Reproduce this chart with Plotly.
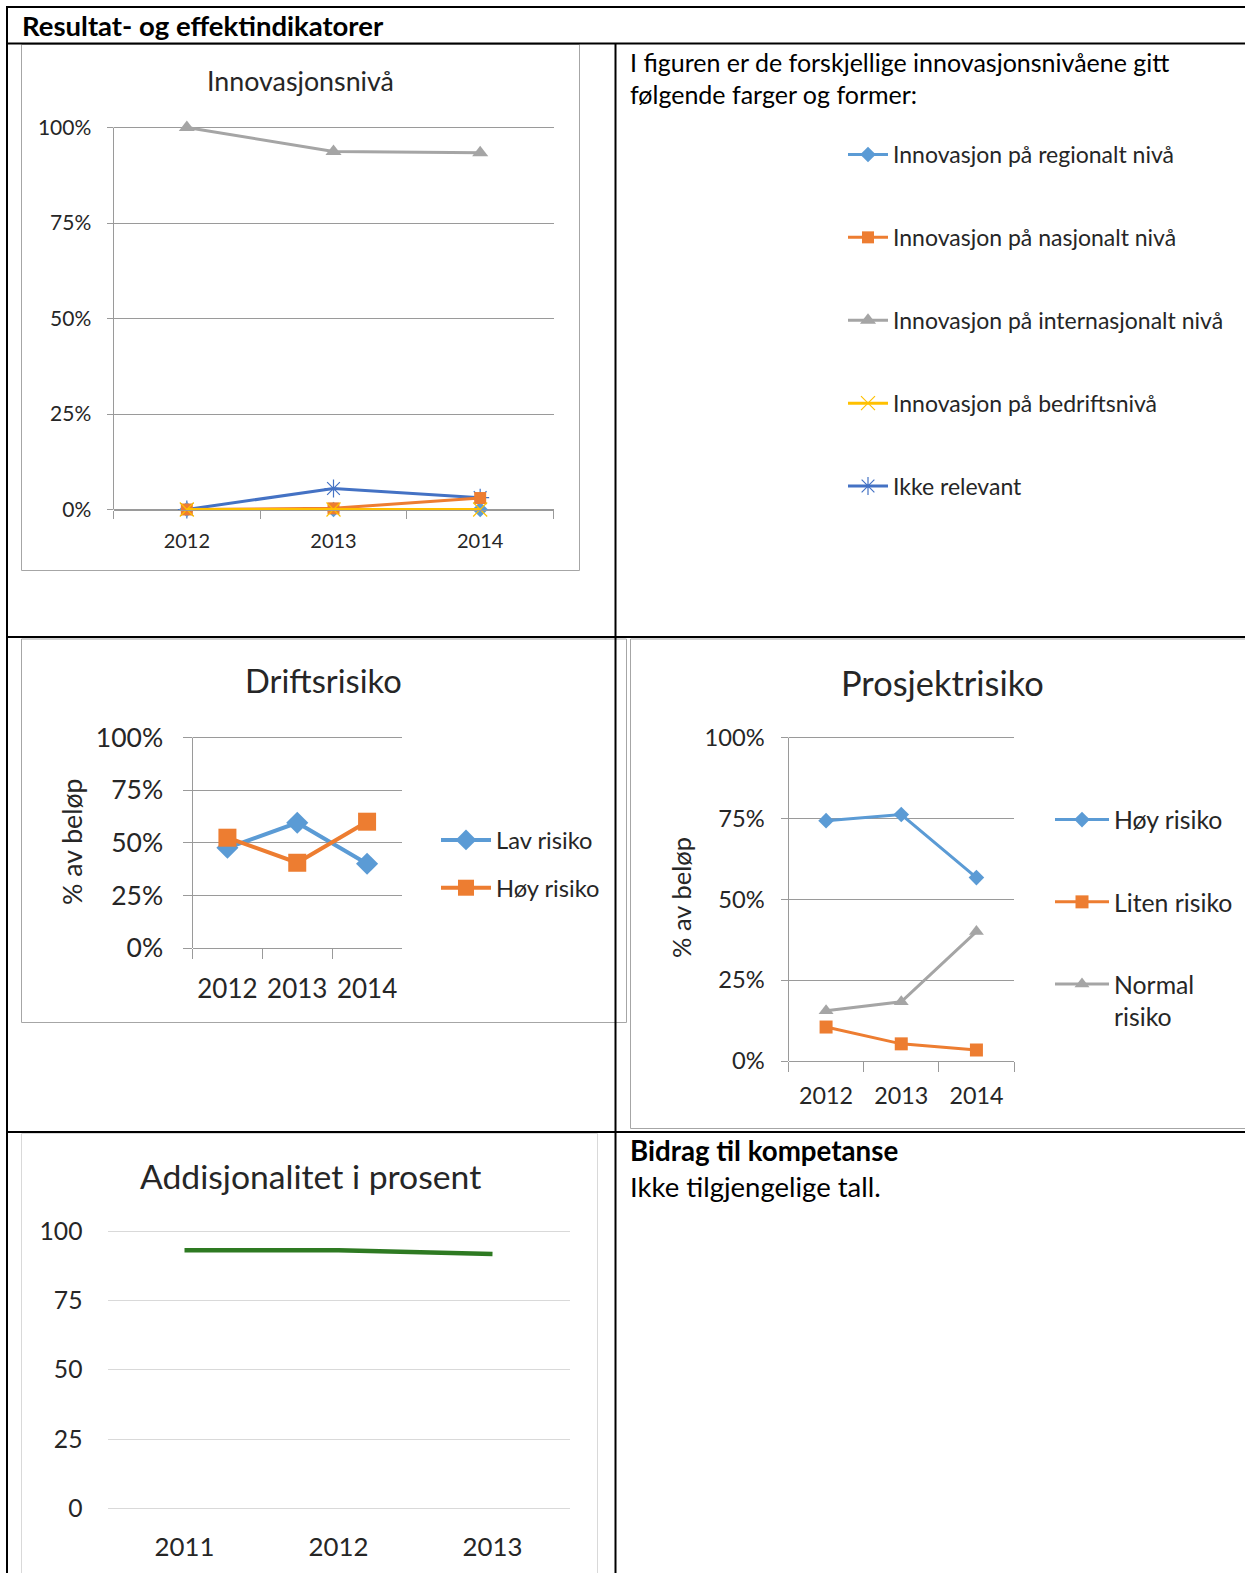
import plotly.graph_objects as go

W, H = 1245, 1573
FONT = "Lato"
TXT = "#262626"
AXC = "#9A9A9A"
BOXC = "#A6A6A6"

# ---------------- data ----------------
years_innov = ["2012", "2013", "2014"]
innov_regional = [0.0, 0.0, 0.0]
innov_nasjonal = [0.0, 0.003, 0.030]
innov_internasjonal = [1.0, 0.937, 0.934]
innov_bedrift = [0.0, 0.0, 0.0]
innov_ikke_relevant = [0.0, 0.055, 0.031]

years_drift = ["2012", "2013", "2014"]
drift_lav = [0.476, 0.595, 0.400]
drift_hoy = [0.524, 0.405, 0.600]

years_prosjekt = ["2012", "2013", "2014"]
prosjekt_hoy = [0.743, 0.762, 0.567]
prosjekt_liten = [0.105, 0.053, 0.034]
prosjekt_normal = [0.155, 0.183, 0.400]

years_add = ["2011", "2012", "2013"]
addisjonalitet = [93.1, 93.1, 91.7]

pct_ticks = [0, 0.25, 0.5, 0.75, 1.0]
pct_labels = ["0%", "25%", "50%", "75%", "100%"]
add_ticks = [0, 25, 50, 75, 100]
add_labels = ["0", "25", "50", "75", "100"]

BLUE, ORANGE, GRAY, YELLOW, DBLUE, GREEN = "#5B9BD5", "#ED7D31", "#A5A5A5", "#FFC000", "#4472C4", "#2E7A22"


def fx(px):
    return px / W


def fy(py):
    return 1 - py / H


def ydom(p_top, p_bot, v_top, v_bot, pad_px=4):
    s = (p_bot - p_top) / (v_top - v_bot)
    pad = pad_px / s
    return [v_bot - pad, v_top + pad], [fy(p_bot + pad_px), fy(p_top - pad_px)]


fig = go.Figure()

# ---------------- chart 1: Innovasjonsnivå ----------------
# (name, values, colour, symbol, size, legend rank) in drawing order
c1 = [
    ("Ikke relevant", innov_ikke_relevant, DBLUE, "asterisk-open", 15, 5),
    ("Innovasjon på regionalt nivå", innov_regional, BLUE, "diamond", 12, 1),
    ("Innovasjon på internasjonalt nivå", innov_internasjonal, GRAY, "triangle-up", 14, 3),
    ("Innovasjon på nasjonalt nivå", innov_nasjonal, ORANGE, "square", 12, 2),
    ("Innovasjon på bedriftsnivå", innov_bedrift, YELLOW, "x-thin-open", 14, 4),
]
for i, (nm, vals, col, sym, sz, rank) in enumerate(c1):
    mk = dict(symbol=sym, size=sz, color=col)
    if "open" in sym:
        mk["line"] = dict(color=col, width=1.2)
    fig.add_trace(go.Scatter(x=years_innov, y=vals, name=nm, mode="lines+markers",
                             line=dict(color=col, width=3), marker=mk,
                             xaxis="x", yaxis="y", legend="legend", legendrank=rank,
                             legendgroup="a%d" % rank, cliponaxis=False))

# ---------------- chart 2: Driftsrisiko ----------------
for i, (nm, vals, col, sym, sz) in enumerate([
        ("Lav risiko", drift_lav, BLUE, "diamond", 17),
        ("Høy risiko", drift_hoy, ORANGE, "square", 18)]):
    fig.add_trace(go.Scatter(x=years_drift, y=vals, name=nm, mode="lines+markers",
                             line=dict(color=col, width=4), marker=dict(symbol=sym, size=sz, color=col),
                             xaxis="x2", yaxis="y2", legend="legend2",
                             legendgroup="b%d" % i, cliponaxis=False))

# ---------------- chart 3: Prosjektrisiko ----------------
for i, (nm, vals, col, sym, sz) in enumerate([
        ("Høy risiko", prosjekt_hoy, BLUE, "diamond", 12),
        ("Liten risiko", prosjekt_liten, ORANGE, "square", 13),
        ("Normal<br>risiko", prosjekt_normal, GRAY, "triangle-up", 13)]):
    fig.add_trace(go.Scatter(x=years_prosjekt, y=vals, name=nm, mode="lines+markers",
                             line=dict(color=col, width=3), marker=dict(symbol=sym, size=sz, color=col),
                             xaxis="x3", yaxis="y3", legend="legend3",
                             legendgroup="c%d" % i, cliponaxis=False))

# ---------------- chart 4: Addisjonalitet ----------------
fig.add_trace(go.Scatter(x=years_add, y=addisjonalitet, name="Addisjonalitet", mode="lines",
                         line=dict(color=GREEN, width=4.5), xaxis="x4", yaxis="y4",
                         showlegend=False))

# axes
r1, d1 = ydom(127.5, 509.5, 1.0, 0.0)
r2, d2 = ydom(737.5, 948.0, 1.0, 0.0)
r3, d3 = ydom(737.5, 1061.0, 1.0, 0.0)
r4, d4 = ydom(1231.0, 1508.5, 100.0, 0.0, pad_px=2)


def xax(dom, pos, size, ticklen, standoff, show=True):
    d = dict(domain=[fx(dom[0]), fx(dom[1])], type="category", range=[-0.5, 2.5],
             anchor="free", position=fy(pos), automargin=False,
             showgrid=False, zeroline=False, tickfont=dict(family=FONT, size=size, color=TXT),
             ticklabelstandoff=standoff, fixedrange=True)
    if show:
        d.update(showline=True, linecolor=AXC, linewidth=1, ticks="outside", tickson="boundaries",
                 ticklen=ticklen, tickcolor=AXC, tickwidth=1)
    else:
        d.update(showline=False, ticks="")
    return d


def yax(rng, dom, xa, vals, labels, size, ticklen, standoff, gridc=AXC, ticks=True):
    d = dict(domain=dom, range=rng, anchor=xa, tickvals=vals, ticktext=labels, automargin=False,
             showgrid=True, gridcolor=gridc, gridwidth=1, zeroline=False, showline=False,
             tickfont=dict(family=FONT, size=size, color=TXT), ticklabelstandoff=standoff,
             fixedrange=True)
    if ticks:
        d.update(ticks="outside", ticklen=ticklen, tickcolor=gridc, tickwidth=1)
    else:
        d.update(ticks="")
    return d


layout = dict(
    width=W, height=H, margin=dict(l=0, r=0, t=0, b=0, autoexpand=False),
    paper_bgcolor="white", plot_bgcolor="rgba(0,0,0,0)",
    font=dict(family=FONT, color=TXT),
    xaxis=xax((113.5, 553.5), 509.5, 20, 8, 13),
    yaxis=yax(r1, d1, "x", pct_ticks, pct_labels, 21, 6, 11),
    xaxis2=xax((192.5, 402.0), 948.0, 26, 10, 18),
    yaxis2=yax(r2, d2, "x2", pct_ticks, pct_labels, 26.5, 9, 14),
    xaxis3=xax((788.5, 1014.0), 1061.0, 23.3, 10, 14),
    yaxis3=yax(r3, d3, "x3", pct_ticks, pct_labels, 23.7, 7, 11),
    xaxis4=xax((107.5, 569.5), 1508.5, 25.8, 0, 21, show=False),
    yaxis4=yax(r4, d4, "x4", add_ticks, add_labels, 24.7, 0, 24, gridc="#D9D9D9", ticks=False),
    legend=dict(x=fx(843), y=fy(133), xanchor="left", yanchor="top", itemwidth=40,
                font=dict(family=FONT, size=23, color=TXT), tracegroupgap=50,
                traceorder="grouped",
                bgcolor="rgba(0,0,0,0)", itemclick=False, itemdoubleclick=False),
    legend2=dict(x=fx(436), y=fy(818), xanchor="left", yanchor="top", itemwidth=50,
                 font=dict(family=FONT, size=23.7, color=TXT), tracegroupgap=14,
                 bgcolor="rgba(0,0,0,0)", itemclick=False, itemdoubleclick=False),
    legend3=dict(x=fx(1050), y=fy(797), xanchor="left", yanchor="top", valign="top", itemwidth=54,
                 font=dict(family=FONT, size=24.8, color=TXT), tracegroupgap=47,
                 bgcolor="rgba(0,0,0,0)", itemclick=False, itemdoubleclick=False),
)
fig.update_layout(**layout)

shapes = []
# vertical value-axis lines for charts 1-3
for xa, ya in [("x", "y"), ("x2", "y2"), ("x3", "y3")]:
    shapes.append(dict(type="line", xref=xa + " domain", yref=ya, x0=0, x1=0, y0=0, y1=1,
                       line=dict(color=AXC, width=1)))


def rect(x0, y0, x1, y1, col, w):
    shapes.append(dict(type="rect", xref="paper", yref="paper", x0=fx(x0), x1=fx(x1),
                       y0=fy(y1), y1=fy(y0), line=dict(color=col, width=w), layer="below"))


def hline(y, x0, x1, col="black", w=2):
    shapes.append(dict(type="line", xref="paper", yref="paper", x0=fx(x0), x1=fx(x1),
                       y0=fy(y), y1=fy(y), line=dict(color=col, width=w)))


def vline(x, y0, y1, col="black", w=2):
    shapes.append(dict(type="line", xref="paper", yref="paper", x0=fx(x), x1=fx(x),
                       y0=fy(y0), y1=fy(y1), line=dict(color=col, width=w)))


# chart frames
rect(21.5, 44.5, 579.5, 570.5, BOXC, 1)
rect(21.5, 639.0, 626.5, 1022.5, BOXC, 1)
rect(630.5, 639.0, 1252, 1128.5, BOXC, 1)
rect(21.5, 1133.5, 597.5, 1580, "#D9D9D9", 1)

# table grid
hline(7, 6, 1250)
hline(43.5, 6, 1250)
hline(637, 6, 1250)
hline(1132, 6, 1250)
vline(7, 6, 1580)
vline(615.5, 43.5, 1580)

fig.update_layout(shapes=shapes)

ann = []


def text(x, y, s, size, bold=False, xanchor="left", yanchor="middle", angle=0, color=TXT):
    ann.append(dict(x=fx(x), y=fy(y), xref="paper", yref="paper", text=("<b>%s</b>" % s) if bold else s,
                    showarrow=False, xanchor=xanchor, yanchor=yanchor, textangle=angle,
                    font=dict(family=FONT, size=size, color=color)))


text(20, 25, "Resultat- og effektindikatorer", 27.5, bold=True, color="black")
text(300, 81, "Innovasjonsnivå", 26.8, xanchor="center")
text(628, 62, "I figuren er de forskjellige innovasjonsnivåene gitt", 25, color="black")
text(628, 94, "følgende farger og former:", 25, color="black")
text(323, 681, "Driftsrisiko", 32.7, xanchor="center")
text(72, 842, "% av beløp", 26.7, xanchor="center", angle=-90)
text(942, 682, "Prosjektrisiko", 34.4, xanchor="center")
text(681, 898, "% av beløp", 25.5, xanchor="center", angle=-90)
text(310, 1176, "Addisjonalitet i prosent", 33.7, xanchor="center")
text(628, 1150, "Bidrag til kompetanse", 27.7, bold=True, color="black")
text(628, 1186, "Ikke tilgjengelige tall.", 27.5, color="black")

fig.update_layout(annotations=ann)

fig.write_html("out.html", config={"displayModeBar": False},
               post_script="document.body.style.margin='0';document.body.style.padding='0';")
